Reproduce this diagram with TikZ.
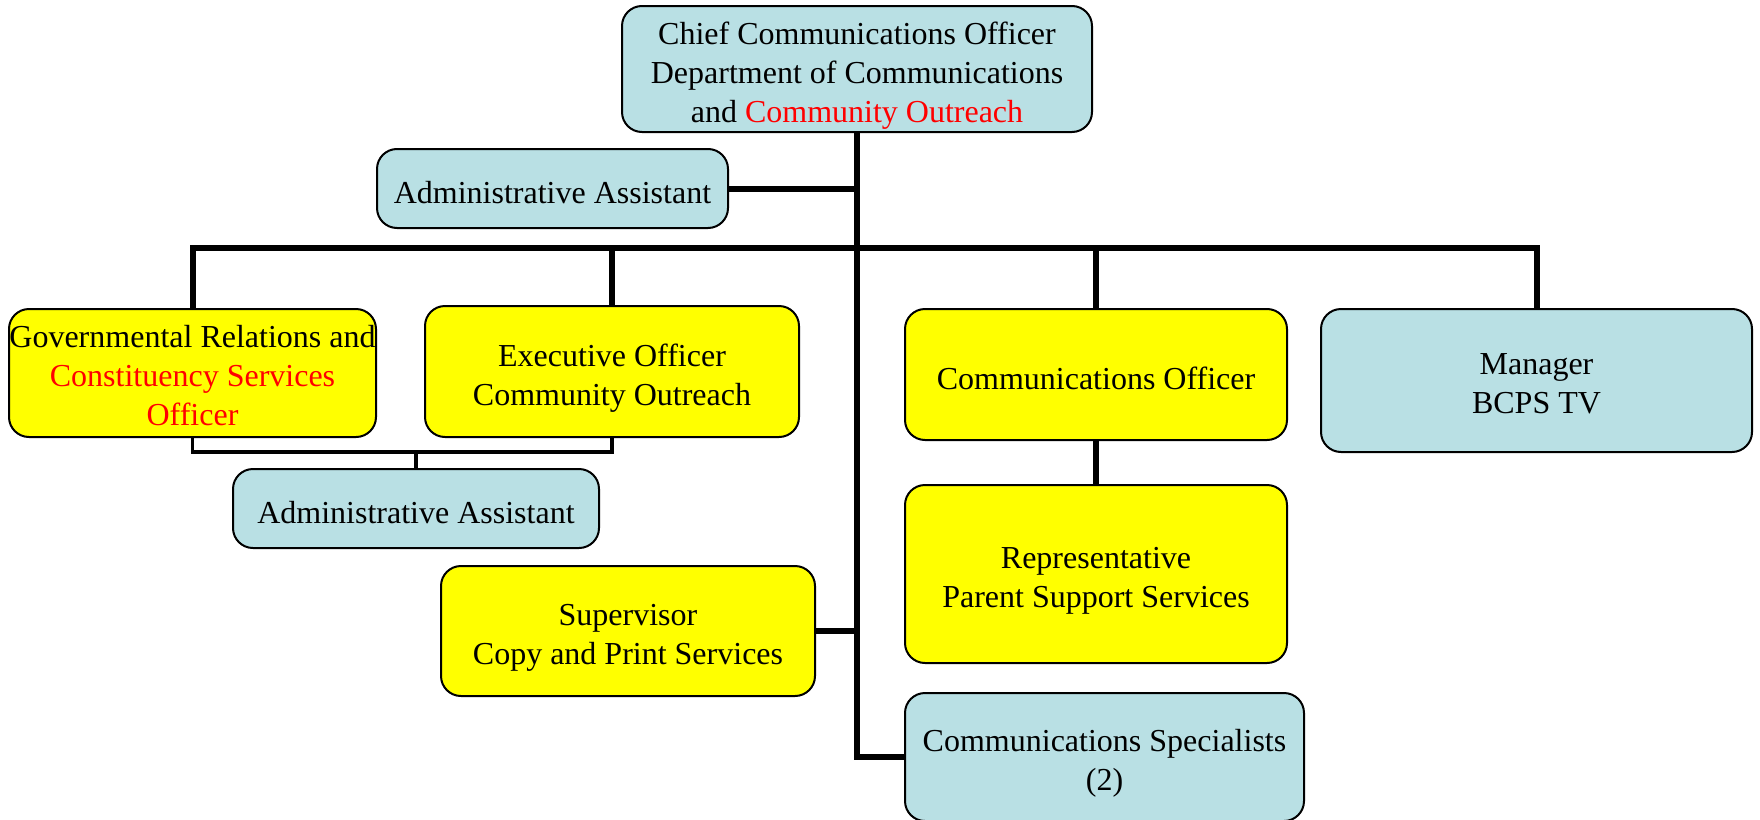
\documentclass[tikz,border=0pt]{standalone}
\usepackage{fontspec}
\setmainfont{Liberation Serif}
\usepackage{xcolor}
\definecolor{boxblue}{RGB}{185,224,228}
\definecolor{boxyellow}{RGB}{255,255,0}
% struts that set the first line a little lower
\newcommand{\firstline}{\rule{0pt}{17.5pt}}
\newcommand{\flatline}{\rule{0pt}{14pt}}% last line without descenders
\newcommand{\oneline}{\rule{0pt}{15pt}}

\begin{document}
\begin{tikzpicture}[x=0.5pt, y=-0.5pt,
		postbox/.style={draw=black, line width=1pt, rounded corners=10pt, align=center,
			inner xsep=0pt, inner ysep=1pt, font=\fontsize{16}{19.5}\selectfont},
		bluebox/.style={postbox, fill=boxblue},
		yellowbox/.style={postbox, fill=boxyellow},
		link/.style={line width=3pt},
		thin link/.style={line width=1.6pt}]
		\useasboundingbox (0,0) rectangle (1760,819);

		% top of the chart
		\node[bluebox, minimum width=235pt, minimum height=63pt] (chief) at (857,69)
			{\firstline Chief Communications Officer\\Department of Communications\\and \textcolor{red}{Community Outreach}};
		\node[bluebox, minimum width=175.5pt, minimum height=39.5pt] (asstTop) at (552.5,188.5) {\oneline Administrative Assistant};

		% second row
		\node[yellowbox, minimum width=183.5pt, minimum height=64pt] (gov) at (192.5,373)
			{\flatline Governmental Relations and\\\textcolor{red}{Constituency Services}\\\textcolor{red}{Officer}};
		\node[yellowbox, minimum width=187pt, minimum height=65.5pt] (exec) at (612,371.5) {\firstline Executive Officer\\Community Outreach};
		\node[yellowbox, minimum width=191pt, minimum height=65.5pt] (commOff) at (1096,374.5) {\oneline Communications Officer};
		\node[bluebox, minimum width=215.5pt, minimum height=71.5pt] (tv) at (1536.5,380.5) {\flatline Manager\\BCPS TV};

		% lower boxes
		\node[bluebox, minimum width=183pt, minimum height=39.5pt] (asstLow) at (416,508.5) {\oneline Administrative Assistant};
		\node[yellowbox, minimum width=187pt, minimum height=65pt] (print) at (628,631) {\firstline Supervisor\\Copy and Print Services};
		\node[yellowbox, minimum width=191pt, minimum height=89pt] (parent) at (1096,574) {\firstline Representative\\Parent Support Services};
		\node[bluebox, minimum width=199.5pt, minimum height=64pt] (spec) at (1104.5,757) {\firstline Communications Specialists\\(2)};

		% connectors
		\coordinate (bus) at (857,248);
		\coordinate (bend) at (416,452);
		\draw[link] (chief.south) |- (spec.west);
		\draw[link] (asstTop.east) -- (asstTop.east -| chief.south);
		\draw[link] (gov.north) |- (bus) -| (tv.north);
		\draw[link] (exec.north) -- (exec.north |- bus);
		\draw[link] (commOff.north) -- (commOff.north |- bus);
		\draw[link] (commOff.south) -- (parent.north);
		\draw[link] (print.east) -- (print.east -| chief.south);
		\draw[thin link] (gov.south) |- (bend) -| (exec.south);
		\draw[thin link] (bend) -- (asstLow.north);
	\end{tikzpicture}
\end{document}
